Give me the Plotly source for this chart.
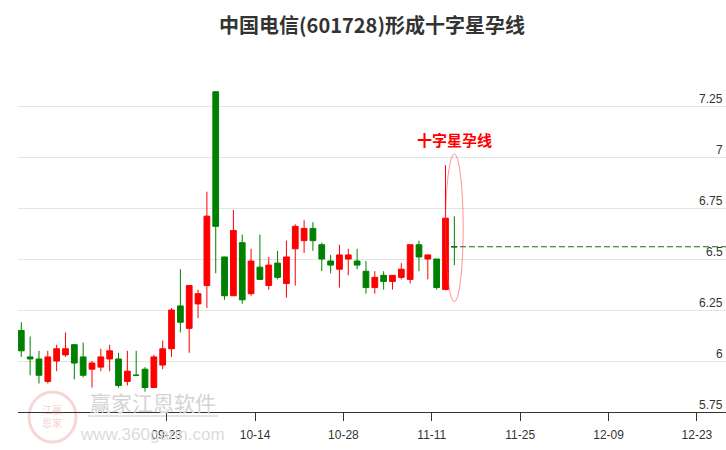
import plotly.graph_objects as go

# ---------------- data ----------------
dates = ["08-28", "08-29", "08-30", "09-02", "09-03", "09-04", "09-05", "09-06", "09-09", "09-10",
         "09-11", "09-12", "09-13", "09-18", "09-19", "09-20", "09-23", "09-24", "09-25", "09-26",
         "09-27", "09-30", "10-08", "10-09", "10-10", "10-11", "10-14", "10-15", "10-16", "10-17",
         "10-18", "10-21", "10-22", "10-23", "10-24", "10-25", "10-28", "10-29", "10-30", "10-31",
         "11-01", "11-04", "11-05", "11-06", "11-07", "11-08", "11-11", "11-12", "11-13", "11-14"]
opens = [6.15, 6.02, 6.01, 5.90, 6.00, 6.03, 6.08, 6.02, 5.96, 5.97,
         6.01, 6.01, 5.90, 5.93, 5.96, 5.87, 5.98, 6.06, 6.27, 6.16,
         6.28, 6.37, 7.32, 6.51, 6.32, 6.58, 6.33, 6.46, 6.37, 6.48,
         6.38, 6.55, 6.59, 6.65, 6.57, 6.49, 6.45, 6.50, 6.49, 6.44,
         6.36, 6.42, 6.39, 6.41, 6.40, 6.57, 6.50, 6.50, 6.35, 6.56]
highs = [6.19, 6.12, 6.05, 6.05, 6.08, 6.14, 6.08, 6.09, 6.00, 6.06,
         6.08, 6.04, 6.05, 6.05, 5.97, 6.03, 6.10, 6.26, 6.45, 6.37,
         6.35, 6.83, 7.32, 6.51, 6.74, 6.62, 6.55, 6.62, 6.51, 6.54,
         6.59, 6.67, 6.69, 6.68, 6.58, 6.52, 6.57, 6.55, 6.55, 6.49,
         6.44, 6.44, 6.42, 6.48, 6.57, 6.59, 6.52, 6.50, 6.96, 6.71]
lows = [6.02, 5.93, 5.89, 5.89, 5.95, 6.02, 5.91, 5.92, 5.87, 5.95,
        5.95, 5.87, 5.88, 5.93, 5.85, 5.87, 5.96, 6.02, 6.14, 6.04,
        6.21, 6.26, 6.43, 6.30, 6.32, 6.28, 6.32, 6.42, 6.35, 6.40,
        6.31, 6.37, 6.53, 6.54, 6.44, 6.43, 6.36, 6.42, 6.45, 6.33,
        6.33, 6.35, 6.35, 6.40, 6.38, 6.44, 6.40, 6.35, 6.35, 6.47]
closes = [6.05, 6.01, 5.93, 6.02, 6.06, 6.06, 5.99, 5.93, 5.99, 6.02,
          6.05, 5.88, 5.95, 5.93, 5.87, 6.02, 6.06, 6.25, 6.19, 6.37,
          6.33, 6.71, 6.66, 6.32, 6.64, 6.30, 6.49, 6.40, 6.47, 6.41,
          6.51, 6.66, 6.65, 6.59, 6.50, 6.47, 6.52, 6.52, 6.47, 6.36,
          6.41, 6.39, 6.42, 6.45, 6.57, 6.51, 6.52, 6.36, 6.70, 6.56]

tick_labels = ["09-23", "10-14", "10-28", "11-11", "11-25", "12-09", "12-23"]
tick_index = [16, 26, 36, 46, 56, 66, 76]          # trading-day index of each label
y_ticks = [5.75, 6.0, 6.25, 6.5, 6.75, 7.0, 7.25]
y_tick_labels = ["5.75", "6", "6.25", "6.5", "6.75", "7", "7.25"]

title_text = "中国电信(601728)形成十字星孕线"
pattern_label = "十字星孕线"
watermark_name = "赢家江恩软件"
watermark_url = "www.360gann.com"

# ---------------- figure ----------------
UP = "#ff0000"
DOWN = "#008000"
TICK_FONT = dict(family="Liberation Sans Narrow, Arial Narrow, sans-serif", size=12, color="#333333")
x = list(range(len(dates)))
n = len(dates)

fig = go.Figure()
fig.add_trace(go.Candlestick(
    x=x, open=opens, high=highs, low=lows, close=closes,
    increasing=dict(line=dict(color=UP, width=1), fillcolor=UP),
    decreasing=dict(line=dict(color=DOWN, width=1), fillcolor=DOWN),
    whiskerwidth=0, hoverinfo="skip", showlegend=False,
))

x_min, x_max = -0.373, 79.74
last = n - 1
top = max(highs[-2:]) + 0.055
bottom = min(lows[-2:]) - 0.06

# ellipse around the pattern
fig.add_shape(type="circle", xref="x", yref="y",
              x0=last - 1.0, x1=last + 1.0, y0=bottom, y1=top,
              line=dict(color="rgba(255,60,60,0.55)", width=1), layer="above")
# dashed reference line at last close
fig.add_shape(type="line", xref="x", yref="y",
              x0=last - 0.38, x1=x_max, y0=closes[-1], y1=closes[-1],
              line=dict(color="#1b6b1b", width=1, dash="6px,3px"))

fig.add_annotation(x=last, y=top, xref="x", yref="y", text=pattern_label,
                   showarrow=False, yanchor="bottom", yshift=2,
                   font=dict(family="Noto Sans CJK SC", size=15, color="#ff0000", weight="bold"))

# y tick labels: right aligned, sitting just above their grid line
for v, lab in zip(y_ticks, y_tick_labels):
    fig.add_annotation(x=1, y=v, xref="paper", yref="y", text=lab, showarrow=False,
                       xanchor="right", yanchor="bottom", xshift=-1, yshift=-2,
                       font=TICK_FONT)

# watermark (bottom-left)
fig.add_annotation(x=(153 - 18) / 708, y=(412 - 402) / 352, xref="paper", yref="paper",
                   text=watermark_name, showarrow=False, xanchor="center", yanchor="middle",
                   font=dict(family="Noto Sans CJK SC", size=21, color="#d4d4d4"))
fig.add_annotation(x=(152 - 18) / 708, y=(412 - 434) / 352, xref="paper", yref="paper",
                   text=watermark_url, showarrow=False, xanchor="center", yanchor="middle",
                   font=dict(family="Liberation Sans", size=17, color="#dcdcdc"))
fig.add_shape(type="line", xref="paper", yref="paper",
              x0=(88 - 18) / 708, x1=(218 - 18) / 708, y0=(412 - 416) / 352, y1=(412 - 416) / 352,
              line=dict(color="rgba(200,200,200,0.5)", width=2), layer="below")
fig.add_shape(type="circle", xref="paper", yref="paper",
              x0=(29 - 18) / 708, x1=(76 - 18) / 708, y0=(412 - 442) / 352, y1=(412 - 392) / 352,
              line=dict(color="rgba(230,120,120,0.3)", width=3), layer="below")
fig.add_annotation(x=(52 - 18) / 708, y=(412 - 416) / 352, xref="paper", yref="paper",
                   text="江赢<br>恩家", showarrow=False, xanchor="center", yanchor="middle",
                   font=dict(family="Noto Sans CJK SC", size=10, color="rgba(220,110,110,0.35)"))

fig.update_layout(
    width=726, height=450,
    margin=dict(l=18, r=0, t=60, b=38, autoexpand=False),
    paper_bgcolor="white", plot_bgcolor="white",
    boxgap=0.35, boxgroupgap=0,
    title=dict(text=title_text, x=0.5, xref="paper", y=1 - 26 / 450, yref="container",
               xanchor="center", yanchor="middle",
               font=dict(family="Noto Sans CJK SC", size=20, color="#333333", weight="bold")),
    xaxis=dict(range=[x_min, x_max], rangeslider=dict(visible=False), automargin=False,
               tickvals=[t + 0.45 for t in tick_index], ticktext=tick_labels,
               showgrid=False, zeroline=False, showline=True, linecolor="#333333", linewidth=1,
               ticks="outside", ticklen=8, tickcolor="#333333", tickwidth=1,
               ticklabelstandoff=4, tickfont=TICK_FONT),
    yaxis=dict(range=[5.75, 5.75 + 352 / 204], side="right", tickvals=y_ticks, automargin=False,
               showticklabels=False, showgrid=True, gridcolor="#e4e4e4", gridwidth=1,
               zeroline=False, showline=False, ticks=""),
    hovermode=False,
)

fig.write_html("out.html", config={"displayModeBar": False, "staticPlot": True},
               post_script="document.body.style.margin='0';document.body.style.overflow='hidden';")
